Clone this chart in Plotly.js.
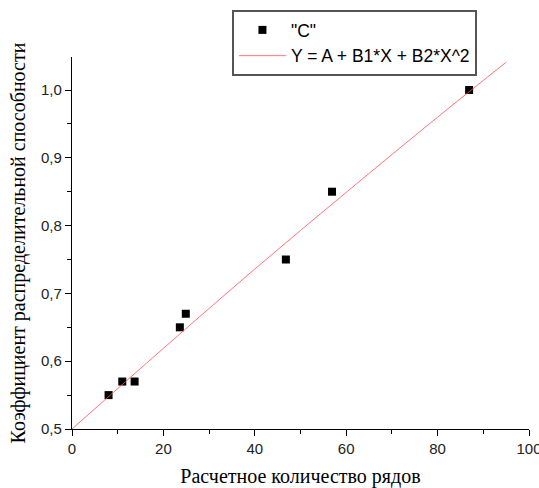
<!DOCTYPE html>
<html><head><meta charset="utf-8">
<script src="https://cdn.plot.ly/plotly-3.0.1.min.js"></script>
<style>html,body{margin:0;padding:0;background:#fff}#chart{width:539px;height:488px}</style>
</head><body><div id="chart"></div>
<script>
// Experimental points "C"
const pointsX = [8, 11, 13.7, 23.6, 24.9, 46.8, 56.9, 86.9];
const pointsY = [0.55, 0.57, 0.57, 0.65, 0.67, 0.75, 0.85, 1.0];
// Fitted curve Y = A + B1*X + B2*X^2
const fitX = [0, 20, 40, 60, 80, 95];
const fitY = [0.5, 0.619, 0.736, 0.849, 0.960, 1.041];
const xTickVals = [0, 20, 40, 60, 80, 100];
const yTickVals = [0.5, 0.6, 0.7, 0.8, 0.9, 1.0];
const legendNames = ['"C"', 'Y = A + B1*X + B2*X^2'];
const xTitle = 'Расчетное количество рядов';
const yTitle = 'Коэффициент распределительной способности';

const traces = [
  {x: pointsX, y: pointsY, mode: 'markers', type: 'scatter', name: legendNames[0],
   marker: {symbol: 'square', size: 8, color: '#000'}, cliponaxis: false},
  {x: fitX, y: fitY, mode: 'lines', type: 'scatter', name: legendNames[1],
   line: {color: '#ff5050', width: 0.8, shape: 'spline'}}
];
const layout = {
  width: 539, height: 488,
  margin: {l: 72, r: 10, t: 57, b: 59},
  paper_bgcolor: '#fff', plot_bgcolor: '#fff',
  separators: ', ',
  showlegend: true,
  legend: {x: 0.350, y: 1.1263, xanchor: 'left', yanchor: 'top',
    bordercolor: '#555', borderwidth: 2, bgcolor: '#fff',
    font: {family: 'Liberation Sans, Arial', size: 17.5, color: '#000'},
    itemwidth: 47},
  xaxis: {range: [0, 100], tickvals: xTickVals, ticks: 'outside', ticklen: 6, tickwidth: 1,
    tickcolor: '#000', showline: true, linecolor: '#000', linewidth: 1.2, showgrid: false, zeroline: false,
    ticklabeloverflow: 'allow',
    tickfont: {family: 'Liberation Sans, Arial', size: 15, color: '#222'},
    minor: {dtick: 10, tick0: 0, ticks: 'outside', ticklen: 4, tickcolor: '#000', showgrid: false},
    title: {text: xTitle, font: {family: 'Liberation Serif, Times New Roman', size: 20, color: '#000'}, standoff: 16}},
  yaxis: {range: [0.5, 1.0487], tickvals: yTickVals, tickformat: '.1f', ticks: 'outside', ticklen: 6, tickwidth: 1,
    tickcolor: '#000', showline: true, linecolor: '#000', linewidth: 1.2, showgrid: false, zeroline: false,
    tickfont: {family: 'Liberation Sans, Arial', size: 15, color: '#222'},
    minor: {dtick: 0.05, tick0: 0.5, ticks: 'outside', ticklen: 4, tickcolor: '#000', showgrid: false},
    title: {text: yTitle, font: {family: 'Liberation Serif, Times New Roman', size: 20, color: '#000'}, standoff: 10}}
};
Plotly.newPlot('chart', traces, layout, {displayModeBar: false, staticPlot: true});
</script></body></html>
